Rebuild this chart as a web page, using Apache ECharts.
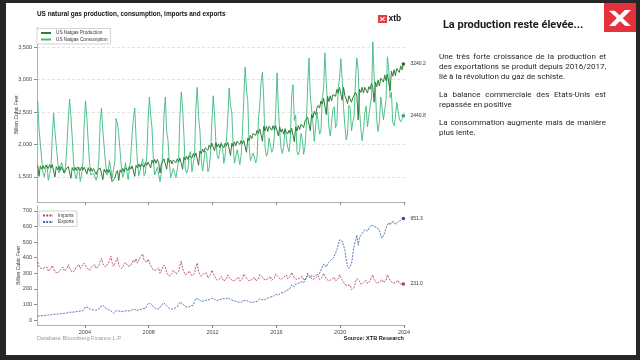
<!DOCTYPE html>
<html><head><meta charset="utf-8">
<script src="https://cdn.jsdelivr.net/npm/echarts@6/dist/echarts.min.js"></script>
<style>
html,body{margin:0;padding:0;background:#262626;overflow:hidden;}
#c{position:absolute;left:0;top:0;width:640px;height:360px;}
.t{position:absolute;left:439px;width:167px;font-family:Roboto,'Noto Sans',sans-serif;font-size:8px;line-height:10px;color:#262626;white-space:normal;text-align:left;}
.j{text-align:justify;text-align-last:justify;}
</style></head>
<body>
<div id="c"></div>
<div class="t j" style="top:51.7px">Une très forte croissance de la production et</div>
<div class="t j" style="top:61.7px">des exportations se produit depuis 2016/2017,</div>
<div class="t" style="top:71.7px">lié à la révolution du gaz de schiste.</div>
<div class="t j" style="top:90px">La balance commerciale des Etats-Unis est</div>
<div class="t" style="top:99.5px">repassée en positive</div>
<div class="t j" style="top:118.3px">La consommation augmente mais de manière</div>
<div class="t" style="top:128.3px">plus lente.</div>
<script>
const startYear = 2001;
const yearTicks = [2004, 2008, 2012, 2016, 2020, 2024];
const topTicks = [1500, 2000, 2500, 3000, 3500];
const bottomTicks = [0, 100, 200, 300, 400, 500, 600, 700];

const production = [
1680,1510,1670,1620,1675,1625,1680,1685,1630,1690,1640,1690,
1670,1500,1660,1610,1665,1600,1655,1650,1560,1610,1600,1660,
1640,1480,1645,1600,1650,1600,1655,1655,1600,1655,1605,1650,
1650,1545,1645,1590,1640,1585,1630,1630,1540,1600,1585,1640,
1620,1460,1620,1570,1620,1570,1610,1600,1430,1450,1480,1560,
1600,1450,1610,1570,1630,1580,1640,1650,1600,1660,1620,1670,
1670,1510,1680,1640,1700,1650,1700,1710,1650,1720,1680,1730,
1740,1640,1760,1710,1770,1710,1770,1720,1560,1700,1720,1780,
1790,1620,1790,1720,1760,1700,1760,1770,1720,1780,1730,1790,
1790,1620,1810,1760,1820,1770,1830,1840,1790,1860,1810,1870,
1840,1680,1900,1860,1930,1880,1950,1960,1910,1990,1950,2020,
2030,1900,2030,1960,2010,1950,2010,2020,1950,2020,1980,2030,
2020,1830,2020,1970,2040,1980,2050,2060,2000,2060,2010,2060,
2060,1880,2100,2060,2140,2090,2170,2190,2140,2220,2170,2240,
2250,2050,2280,2210,2280,2200,2280,2290,2220,2290,2220,2290,
2280,2130,2270,2190,2240,2160,2230,2230,2160,2220,2170,2250,
2250,2040,2270,2210,2290,2230,2310,2320,2260,2360,2330,2420,
2430,2210,2460,2410,2510,2460,2560,2600,2560,2670,2620,2710,
2710,2460,2740,2660,2750,2670,2770,2800,2740,2850,2790,2880,
2890,2680,2880,2750,2700,2630,2750,2750,2650,2720,2720,2800,
2760,2380,2850,2800,2880,2790,2880,2890,2790,2890,2850,2940,
2880,2650,2960,2890,2990,2900,3020,3050,2960,3070,2980,3080,
3090,2830,3130,3050,3150,3060,3170,3190,3110,3210,3150,3240.2
];
const consumption = [
2670,2250,2230,1780,1560,1500,1610,1690,1450,1540,1640,2120,
2485,2200,2180,1760,1560,1530,1720,1740,1560,1650,1990,2380,
2700,2430,2100,1730,1540,1470,1600,1650,1430,1530,1710,2300,
2670,2400,2050,1720,1530,1500,1560,1580,1450,1540,1760,2350,
2560,2210,2240,1720,1530,1570,1750,1780,1480,1500,1740,2400,
2315,2150,2130,1640,1500,1560,1720,1730,1460,1620,1800,2160,
2400,2560,2090,1740,1520,1540,1690,1780,1520,1560,1810,2340,
2730,2450,2250,1770,1530,1500,1650,1650,1430,1560,1880,2450,
2730,2200,2070,1720,1490,1480,1630,1660,1490,1620,1770,2450,
2810,2550,2140,1630,1560,1620,1850,1890,1580,1580,1840,2560,
2880,2430,2220,1770,1590,1610,1900,1860,1580,1640,1850,2360,
2750,2450,2050,1830,1780,1800,2030,1950,1710,1840,2100,2420,
2870,2600,2500,1980,1710,1720,1920,1900,1690,1830,2190,2700,
3190,2850,2660,1980,1750,1720,1870,1880,1720,1800,2380,2600,
2960,3110,2700,1950,1820,1870,2100,2110,1880,1920,2150,2500,
3100,2570,2200,1950,1860,1970,2250,2270,1960,1890,2080,2750,
2920,2370,2450,1890,1840,1910,2170,2080,1850,1970,2290,2900,
3330,2750,2740,2330,2050,2080,2500,2520,2160,2200,2720,2860,
3410,2960,2960,2270,2130,2110,2540,2580,2260,2320,2880,3010,
3320,2990,2570,2290,2070,2160,2600,2560,2210,2350,2440,3000,
3330,3150,2540,2240,2060,2230,2480,2590,2270,2270,2600,2700,
3580,3030,2790,2370,2200,2350,2730,2720,2380,2410,2690,3350,
3150,2720,2800,2340,2290,2420,2650,2680,2390,2350,2390,2440.8
];
const imports = [
372,340,350,330,320,335,330,340,315,320,330,350,
345,310,320,300,305,320,330,340,315,325,330,355,
350,315,320,310,325,340,345,355,330,345,345,365,
360,335,345,320,330,345,350,355,330,340,350,375,
395,360,370,340,345,365,380,410,370,345,350,380,
400,350,360,330,340,355,370,380,345,340,350,370,
385,370,395,365,385,400,410,424,385,380,370,390,
395,350,355,320,315,320,330,335,300,320,330,353,
340,305,315,280,290,300,320,325,295,300,310,350,
378,330,320,290,295,300,315,320,285,290,300,345,
366,310,310,280,290,300,305,300,270,275,290,320,
310,280,280,255,255,265,280,270,250,250,265,290,
300,265,275,250,255,260,270,275,250,255,265,295,
305,270,275,250,250,260,270,275,250,255,265,290,
300,275,280,255,260,265,275,280,255,260,270,295,
305,275,280,260,265,275,285,290,265,270,280,305,
300,270,275,260,265,270,275,280,255,260,270,300,
310,275,280,260,265,270,280,285,260,265,275,300,
300,265,270,250,255,260,270,275,250,255,265,290,
285,255,255,230,225,220,230,225,195,190,210,245,
265,255,250,230,235,240,250,255,235,240,250,275,
290,260,255,235,240,245,255,260,240,245,255,290,
285,255,255,235,235,240,250,255,235,235,230,231.0
];
const exportsGas = [
25,24,26,27,28,29,30,31,32,33,34,36,
37,36,37,38,39,40,41,42,43,44,45,47,
50,48,50,51,52,54,55,56,57,58,60,70,
85,92,80,70,68,66,65,64,63,62,70,85,
90,95,85,75,70,68,65,60,52,45,50,60,
62,58,55,54,56,57,58,60,58,57,60,66,
70,68,65,62,64,66,70,72,70,75,90,105,
110,105,95,85,75,70,68,72,80,95,105,110,
100,90,80,75,72,70,72,75,78,85,100,115,
112,105,95,85,80,82,88,90,92,95,120,138,
140,135,128,120,118,122,125,128,125,130,135,140,
138,132,130,125,128,130,135,138,132,135,138,142,
140,132,130,125,122,120,118,115,112,115,120,125,
130,125,122,118,115,112,115,118,116,120,128,135,
138,132,135,130,135,140,145,148,145,150,158,165,
168,160,170,175,180,175,185,190,185,195,210,225,
230,215,230,225,235,240,245,250,240,250,270,285,
280,270,285,275,280,285,290,295,300,320,340,360,
355,340,360,370,380,375,395,410,420,450,480,515,
510,505,495,450,390,345,330,340,360,420,480,510,
545,480,530,540,555,560,580,585,570,590,600,610,
620,600,610,595,590,575,540,525,530,560,590,610,
625,610,630,620,630,615,625,630,625,640,645,651.3
];

const months = production.map((_, i) => startYear + (i + 0.5) / 12);
const pairs = arr => arr.map((v, i) => [months[i], v]);
const FONT = "'Liberation Sans', Arial, sans-serif";
const fmt = v => String(v).replace(/\B(?=(\d{3})+(?!\d))/g, ',');

function xAx(grid, labels) {
  return {
    gridIndex: grid, type: 'value', min: 2001, max: 2024.06,
    axisLine: { show: true, onZero: false, lineStyle: { color: '#b0b0b0', width: 1 } },
    axisTick: { show: true, customValues: yearTicks, length: 3, lineStyle: { color: '#888' } },
    axisLabel: { show: labels, customValues: yearTicks, fontSize: 5.5, color: '#444', margin: 4, formatter: v => String(v) },
    splitLine: { show: false }
  };
}
function yAx(grid, min, max, ticks, grid0, gap) {
  return {
    gridIndex: grid, type: 'value', min, max,
    axisLine: { show: true, onZero: false, lineStyle: { color: '#b0b0b0' } },
    axisTick: { show: true, customValues: ticks, length: 3, lineStyle: { color: '#888' } },
    axisLabel: { customValues: ticks, formatter: fmt, fontSize: 5.5, color: '#444', margin: 5 },
    splitLine: { show: grid0, lineStyle: { color: '#dcdcdc', type: [3, 2], width: 0.8 } },
    name: 'Billion Cubic Feet', nameLocation: 'middle', nameGap: gap, nameMoveOverlap: false,
    nameTextStyle: { fontSize: 5, color: '#333' }
  };
}
function line(name, data, color, dot, xi, dashed, w) {
  const last = data.length - 1;
  return {
    name, type: 'line', xAxisIndex: xi, yAxisIndex: xi, data: pairs(data),
    symbol: 'none', showSymbol: false,
    lineStyle: { color, width: w, type: dashed ? [2, 1.2] : 'solid' },
    itemStyle: { color },
    endLabel: { show: true, formatter: p => Number(p.value[1]).toFixed(1), fontSize: 5, color: '#333', distance: 7, fontFamily: FONT },
    markPoint: { symbol: 'circle', symbolSize: 3.5, silent: true, animation: false,
      itemStyle: { color: dot }, label: { show: false },
      data: [{ coord: [months[last], data[last]] }] },
    emphasis: { disabled: true }, silent: true, animation: false
  };
}
function xtbX(x, y, w, h) {
  return [
    { type: 'polygon', shape: { points: [[x + w * 0.72, y], [x + w, y], [x + w * 0.28, y + h], [x, y + h]] }, style: { fill: '#fff' } },
    { type: 'polygon', shape: { points: [[x, y + h * 0.05], [x + w * 0.26, y + h * 0.05], [x + w, y + h], [x + w * 0.74, y + h]] }, style: { fill: '#fff' } }
  ];
}
const legendBase = {
  orient: 'vertical', itemWidth: 10, itemHeight: 5, itemGap: 1.5,
  itemStyle: { opacity: 0 },
  textStyle: { fontSize: 4.7, color: '#333' },
  borderColor: '#c8c8c8', borderWidth: 0.8, padding: [2, 3, 2, 3], backgroundColor: '#fff'
};

const chart = echarts.init(document.getElementById('c'), null, { renderer: 'canvas' });
chart.setOption({
  backgroundColor: '#262626',
  animation: false,
  textStyle: { fontFamily: FONT },
  graphic: [
    { type: 'rect', z: -10, shape: { x: 6, y: 3, width: 630, height: 352 }, style: { fill: '#ffffff' } },
    { type: 'text', x: 37, y: 14, style: { text: 'US natural gas production, consumption, imports and exports', font: "bold 6.4px 'Liberation Sans', Arial", fill: '#111', verticalAlign: 'middle' } },
    { type: 'rect', shape: { x: 378, y: 15, width: 9, height: 8 }, style: { fill: '#e53a42' } },
    { type: 'group', children: xtbX(379.5, 17, 6, 4) },
    { type: 'text', x: 388.5, y: 19, style: { text: 'xtb', font: "bold 8.5px 'Liberation Sans', Arial", fill: '#111', verticalAlign: 'middle' } },
    { type: 'rect', shape: { x: 604, y: 3, width: 32, height: 29 }, style: { fill: '#e5313b' } },
    { type: 'group', children: xtbX(609, 10, 22, 16) },
    { type: 'text', x: 513, y: 25, style: { text: 'La production reste élevée...', font: "bold 11px Roboto, 'Noto Sans', sans-serif", fill: '#1a1a1a', align: 'center', verticalAlign: 'middle' } },
    { type: 'text', x: 37, y: 338, style: { text: 'Database Bloomberg Finance L.P.', font: "5.6px 'Liberation Sans', Arial", fill: '#9a9a9a', verticalAlign: 'middle' } },
    { type: 'text', x: 404, y: 338, style: { text: 'Source: XTB Research', font: "bold 5.6px 'Liberation Sans', Arial", fill: '#222', align: 'right', verticalAlign: 'middle' } }
  ],
  grid: [
    { left: 37, right: 235, top: 27.5, height: 174.5, containLabel: false, outerBoundsMode: 'none' },
    { left: 37, right: 235, top: 206, height: 119, containLabel: false, outerBoundsMode: 'none' }
  ],
  legend: [
    Object.assign({ data: ['US Natgas Production', 'US Natgas Consumption'], left: 37, top: 28.5 }, legendBase),
    Object.assign({ data: ['Imports', 'Exports'], left: 39, top: 211 }, legendBase)
  ],
  xAxis: [xAx(0, false), xAx(1, true)],
  yAxis: [
    yAx(0, 1115, 3800, topTicks, true, 18),
    yAx(1, -32, 732, bottomTicks, false, 15.5)
  ],
  series: [
    line('US Natgas Consumption', consumption, '#3dba7f', '#2f9e6a', 0, false, 0.9),
    line('US Natgas Production', production, '#2f7d3a', '#2a5f30', 0, false, 1),
    line('Imports', imports, '#b2476e', '#c0304f', 1, true, 0.9),
    line('Exports', exportsGas, '#4468a8', '#2f4f95', 1, true, 0.9)
  ]
});
</script>
</body></html>
